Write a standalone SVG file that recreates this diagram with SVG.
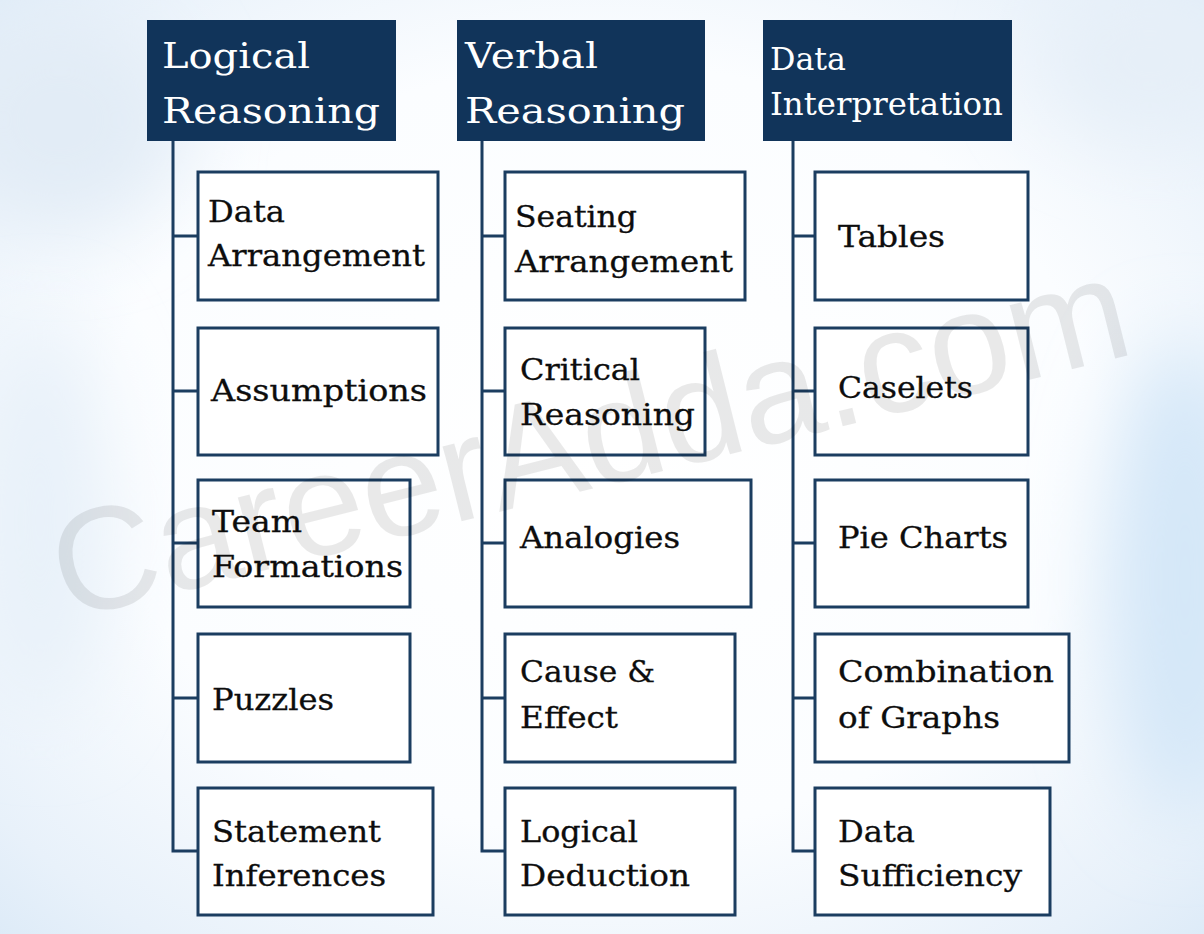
<svg xmlns="http://www.w3.org/2000/svg" width="1204" height="934" viewBox="0 0 1204 934">
<style>
.hdr{fill:#11345a}
.box{fill:#ffffff;stroke:#1b3d60;stroke-width:3}
.ht{font-family:"DejaVu Serif","Liberation Serif",serif;font-size:36px;fill:#ffffff}
.ht2{font-family:"DejaVu Serif","Liberation Serif",serif;font-size:31px;fill:#ffffff}
.bt{font-family:"DejaVu Serif","Liberation Serif",serif;font-size:29px;fill:#0d0d0d;stroke:#0d0d0d;stroke-width:0.3}
.conn{fill:none;stroke:#1b3d60;stroke-width:3}
.wm{font-family:"Liberation Sans",Arial,sans-serif;font-size:146px;fill:#000000;fill-opacity:0.085}
</style>
<defs>
<radialGradient id="bg" cx="0.5" cy="0.48" r="0.75">
<stop offset="0" stop-color="#ffffff"/>
<stop offset="0.55" stop-color="#fbfdff"/>
<stop offset="0.85" stop-color="#e8f1fa"/>
<stop offset="1" stop-color="#dae9f7"/>
</radialGradient>
<filter id="blur" x="-50%" y="-50%" width="200%" height="200%"><feGaussianBlur stdDeviation="40"/></filter>
</defs>
<g id="background">
<rect x="0" y="0" width="1204" height="934" fill="url(#bg)"/>
<ellipse cx="1185" cy="580" rx="80" ry="240" fill="#d4e7f8" filter="url(#blur)"/>
<ellipse cx="60" cy="120" rx="120" ry="110" fill="#e2ecf6" filter="url(#blur)"/>
<ellipse cx="40" cy="520" rx="70" ry="200" fill="#e8f1f9" filter="url(#blur)"/>
<ellipse cx="1150" cy="60" rx="110" ry="80" fill="#e6eff8" filter="url(#blur)"/>
</g>
<g id="connectors">
<path class="conn" d="M173,141 V851 H198 M173,236 H198 M173,391 H198 M173,543 H198 M173,698 H198"/>
<path class="conn" d="M482,141 V851 H505 M482,236 H505 M482,391 H505 M482,543 H505 M482,698 H505"/>
<path class="conn" d="M793,141 V851 H815 M793,236 H815 M793,391 H815 M793,543 H815 M793,698 H815"/>
</g>
<g id="h-logical">
<rect class="hdr" x="147" y="20" width="249" height="121"/>
<text class="ht" x="162" y="68" textLength="148" lengthAdjust="spacingAndGlyphs">Logical</text>
<text class="ht" x="162" y="123" textLength="218" lengthAdjust="spacingAndGlyphs">Reasoning</text>
</g>
<g id="h-verbal">
<rect class="hdr" x="457" y="20" width="248" height="121"/>
<text class="ht" x="465" y="68" textLength="133" lengthAdjust="spacingAndGlyphs">Verbal</text>
<text class="ht" x="465" y="123" textLength="220" lengthAdjust="spacingAndGlyphs">Reasoning</text>
</g>
<g id="h-di">
<rect class="hdr" x="763" y="20" width="249" height="121"/>
<text class="ht2" x="770" y="70" textLength="76" lengthAdjust="spacingAndGlyphs">Data</text>
<text class="ht2" x="770" y="115" textLength="233" lengthAdjust="spacingAndGlyphs">Interpretation</text>
</g>
<g id="n-data-arrangement">
<rect class="box" x="198" y="172" width="240" height="128"/>
<text class="bt" x="208" y="222" textLength="77" lengthAdjust="spacingAndGlyphs">Data</text>
<text class="bt" x="208" y="266" textLength="217" lengthAdjust="spacingAndGlyphs">Arrangement</text>
</g>
<g id="n-assumptions">
<rect class="box" x="198" y="328" width="240" height="127"/>
<text class="bt" x="211" y="401" textLength="216" lengthAdjust="spacingAndGlyphs">Assumptions</text>
</g>
<g id="n-team-formations">
<rect class="box" x="198" y="480" width="212" height="127"/>
<text class="bt" x="212" y="532" textLength="90" lengthAdjust="spacingAndGlyphs">Team</text>
<text class="bt" x="212" y="577" textLength="191" lengthAdjust="spacingAndGlyphs">Formations</text>
</g>
<g id="n-puzzles">
<rect class="box" x="198" y="634" width="212" height="128"/>
<text class="bt" x="212" y="710" textLength="122" lengthAdjust="spacingAndGlyphs">Puzzles</text>
</g>
<g id="n-statement-inferences">
<rect class="box" x="198" y="788" width="235" height="127"/>
<text class="bt" x="212" y="842" textLength="169" lengthAdjust="spacingAndGlyphs">Statement</text>
<text class="bt" x="212" y="886" textLength="174" lengthAdjust="spacingAndGlyphs">Inferences</text>
</g>
<g id="n-seating-arrangement">
<rect class="box" x="505" y="172" width="240" height="128"/>
<text class="bt" x="515" y="227" textLength="122" lengthAdjust="spacingAndGlyphs">Seating</text>
<text class="bt" x="515" y="272" textLength="218" lengthAdjust="spacingAndGlyphs">Arrangement</text>
</g>
<g id="n-critical-reasoning">
<rect class="box" x="505" y="328" width="200" height="127"/>
<text class="bt" x="520" y="380" textLength="120" lengthAdjust="spacingAndGlyphs">Critical</text>
<text class="bt" x="520" y="425" textLength="175" lengthAdjust="spacingAndGlyphs">Reasoning</text>
</g>
<g id="n-analogies">
<rect class="box" x="505" y="480" width="246" height="127"/>
<text class="bt" x="520" y="548" textLength="160" lengthAdjust="spacingAndGlyphs">Analogies</text>
</g>
<g id="n-cause-effect">
<rect class="box" x="505" y="634" width="230" height="128"/>
<text class="bt" x="520" y="682" textLength="135" lengthAdjust="spacingAndGlyphs">Cause &amp;</text>
<text class="bt" x="520" y="728" textLength="98" lengthAdjust="spacingAndGlyphs">Effect</text>
</g>
<g id="n-logical-deduction">
<rect class="box" x="505" y="788" width="230" height="127"/>
<text class="bt" x="520" y="842" textLength="118" lengthAdjust="spacingAndGlyphs">Logical</text>
<text class="bt" x="520" y="886" textLength="170" lengthAdjust="spacingAndGlyphs">Deduction</text>
</g>
<g id="n-tables">
<rect class="box" x="815" y="172" width="213" height="128"/>
<text class="bt" x="838" y="247" textLength="107" lengthAdjust="spacingAndGlyphs">Tables</text>
</g>
<g id="n-caselets">
<rect class="box" x="815" y="328" width="213" height="127"/>
<text class="bt" x="838" y="398" textLength="135" lengthAdjust="spacingAndGlyphs">Caselets</text>
</g>
<g id="n-pie-charts">
<rect class="box" x="815" y="480" width="213" height="127"/>
<text class="bt" x="838" y="548" textLength="170" lengthAdjust="spacingAndGlyphs">Pie Charts</text>
</g>
<g id="n-combination-graphs">
<rect class="box" x="815" y="634" width="254" height="128"/>
<text class="bt" x="838" y="682" textLength="216" lengthAdjust="spacingAndGlyphs">Combination</text>
<text class="bt" x="838" y="728" textLength="162" lengthAdjust="spacingAndGlyphs">of Graphs</text>
</g>
<g id="n-data-sufficiency">
<rect class="box" x="815" y="788" width="235" height="127"/>
<text class="bt" x="838" y="842" textLength="77" lengthAdjust="spacingAndGlyphs">Data</text>
<text class="bt" x="838" y="886" textLength="184" lengthAdjust="spacingAndGlyphs">Sufficiency</text>
</g>
<g id="watermark">
<text class="wm" x="66" y="620" transform="rotate(-14 66 620)">CareerAdda.com</text>
</g>
</svg>
